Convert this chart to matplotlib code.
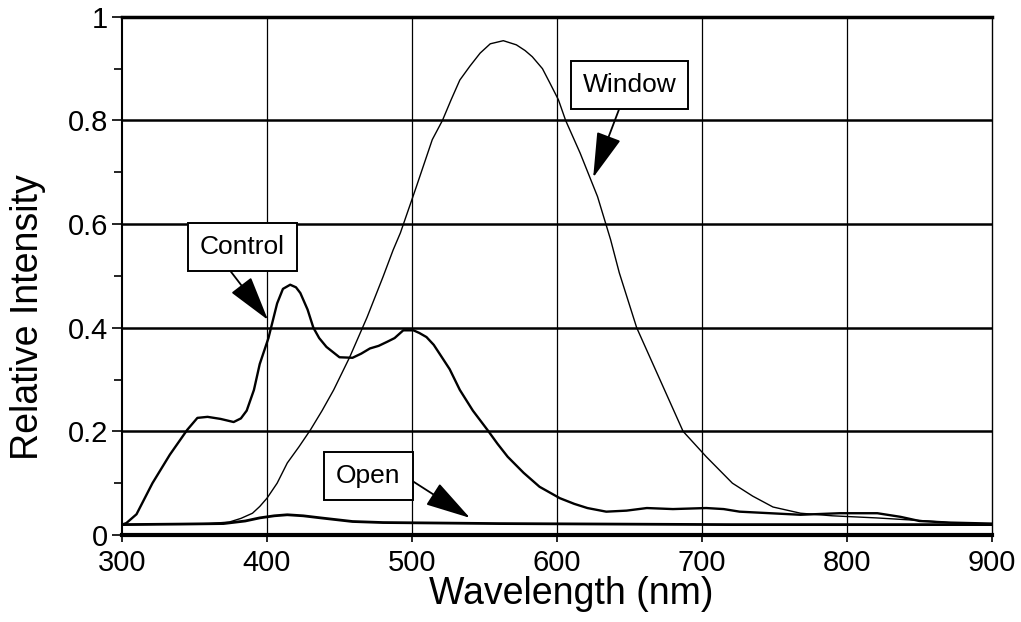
import matplotlib
matplotlib.use("Agg")
import matplotlib.pyplot as plt
import numpy as np

plt.rcParams['font.family'] = ['Liberation Sans', 'DejaVu Sans']

# values
control_wl = [300, 303, 310, 321, 333, 345, 352, 359, 368, 377, 382, 386, 391, 395, 401, 407, 411, 416,
              420, 423, 428, 432, 436, 441, 450, 459, 465, 471, 477, 483, 488, 494, 501, 505, 510, 515,
              519, 526, 533, 542, 552, 559, 566, 577, 588, 602, 612, 621, 634, 648, 662, 680, 703, 715,
              726, 747, 768, 795, 821, 837, 850, 870, 900]
control_int = [0.02, 0.023, 0.04, 0.10, 0.155, 0.203, 0.226, 0.228, 0.224, 0.218, 0.225, 0.24, 0.28, 0.33,
               0.38, 0.447, 0.475, 0.483, 0.478, 0.467, 0.435, 0.40, 0.38, 0.363, 0.343, 0.342, 0.35, 0.36,
               0.365, 0.373, 0.38, 0.395, 0.395, 0.39, 0.382, 0.367, 0.35, 0.32, 0.28, 0.24, 0.203, 0.176,
               0.151, 0.12, 0.093, 0.071, 0.06, 0.052, 0.045, 0.047, 0.052, 0.05, 0.052, 0.05, 0.045,
               0.042, 0.039, 0.042, 0.042, 0.035, 0.027, 0.024, 0.022]

window_wl = [300, 340, 360, 374, 382, 390, 395, 400, 407, 414, 422, 430, 438, 446, 457, 469, 480, 487,
             492, 503, 514, 521, 527, 533, 540, 547, 554, 563, 572, 578, 583, 590, 595, 601, 606, 616,
             628, 637, 643, 655, 671, 687, 703, 721, 735, 749, 768, 790, 820, 850, 875, 900]
window_int = [0.02, 0.021, 0.022, 0.025, 0.032, 0.042, 0.055, 0.071, 0.10, 0.139, 0.17, 0.203, 0.24, 0.28,
              0.343, 0.42, 0.498, 0.55, 0.583, 0.672, 0.763, 0.80, 0.84, 0.878, 0.905, 0.93, 0.948, 0.954,
              0.946, 0.935, 0.923, 0.90, 0.873, 0.84, 0.80, 0.737, 0.653, 0.57, 0.506, 0.40, 0.30, 0.20,
              0.151, 0.10, 0.075, 0.054, 0.042, 0.037, 0.033, 0.028, 0.023, 0.021]

open_wl = [300, 340, 370, 385, 395, 405, 414, 425, 437, 459, 480, 521, 560, 640, 720, 800, 900]
open_int = [0.02, 0.021, 0.022, 0.027, 0.033, 0.037, 0.039, 0.037, 0.033, 0.026, 0.024, 0.023, 0.022,
            0.021, 0.02, 0.02, 0.02]

fig = plt.figure(figsize=(10.21, 6.22), dpi=100)
ax = fig.add_axes([0.1195, 0.1399, 0.852, 0.833])

# grid: heavy horizontals, thin verticals
for yv in [0.2, 0.4, 0.6, 0.8]:
    ax.axhline(yv, color='black', lw=1.8, zorder=1)
for xv in [400, 500, 600, 700, 800]:
    ax.axvline(xv, color='black', lw=0.9, zorder=1)

ax.plot(control_wl, control_int, color='black', lw=1.7, zorder=3)
ax.plot(window_wl, window_int, color='black', lw=1.0, zorder=3)
ax.plot(open_wl, open_int, color='black', lw=2.0, zorder=3)

ax.set_xlim(300, 900)
ax.set_ylim(0, 1)
ax.set_xticks([300, 400, 500, 600, 700, 800, 900])
ax.set_yticks([0, 0.2, 0.4, 0.6, 0.8, 1])
ax.set_yticklabels(['0', '0.2', '0.4', '0.6', '0.8', '1'])
ax.set_yticks([0.1, 0.3, 0.5, 0.7, 0.9], minor=True)
ax.tick_params(axis='y', which='major', direction='out', length=7, width=1.2, labelsize=21, pad=3)
ax.tick_params(axis='y', which='minor', direction='out', length=6, width=1.2)
ax.tick_params(axis='x', which='major', direction='out', length=5, width=1.2, labelsize=21, pad=5)

ax.spines['top'].set_linewidth(2.5)
ax.spines['bottom'].set_linewidth(3)
ax.spines['left'].set_linewidth(1.5)
ax.spines['right'].set_linewidth(1.0)

ax.set_xlabel('Wavelength (nm)', fontsize=27)
ax.set_ylabel('Relative Intensity', fontsize=27)
ax.xaxis.set_label_coords(0.517, -0.08)
ax.yaxis.set_label_coords(-0.087, 0.42)

box = dict(boxstyle='square,pad=0.45', fc='white', ec='black', lw=1.4)

def arrow(rx, ry):
    return dict(arrowstyle='-|>,head_length=1.5,head_width=0.42', color='black', lw=1.3,
                shrinkA=0, shrinkB=0, relpos=(rx, ry))

ax.annotate('Window', xy=(625, 0.69), xytext=(650, 0.869), fontsize=19, ha='center', va='center',
            bbox=box, arrowprops=arrow(0.44, 0), zorder=5)
ax.annotate('Control', xy=(400.7, 0.415), xytext=(383, 0.556), fontsize=19, ha='center', va='center',
            bbox=box, arrowprops=arrow(0.25, 0), zorder=5)
ax.annotate('Open', xy=(540, 0.033), xytext=(470, 0.114), fontsize=19, ha='center', va='center',
            bbox=box, arrowprops=arrow(1, 0.6), zorder=5)

fig.savefig('out.png', dpi=100)
